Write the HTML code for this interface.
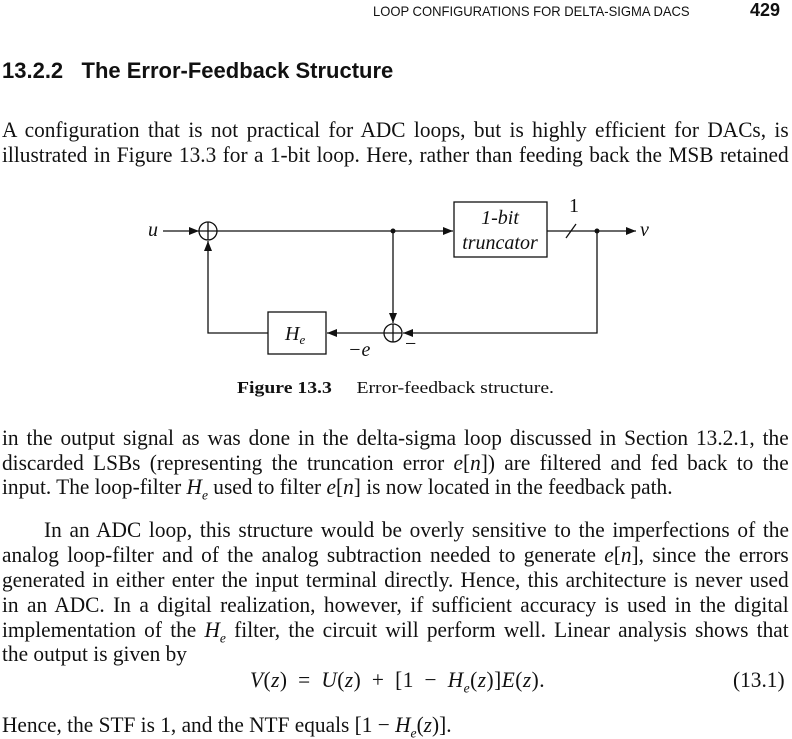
<!DOCTYPE html>
<html><head><meta charset="utf-8"><style>
body{margin:0;width:792px;height:739px;background:#fff;position:relative;overflow:hidden;font-family:"Liberation Serif",serif;color:#111}
.l{position:absolute;left:2px;width:811px;font-size:22px;line-height:20px;height:24px;overflow:hidden;text-align:justify;text-align-last:justify;white-space:normal;transform:scaleX(0.97);transform-origin:0 0}
.n{text-align-last:left}
i{font-style:italic}
sub{font-size:14px}
</style></head><body>
<div style="position:absolute;left:373px;top:3px;font:14px 'Liberation Sans',sans-serif;transform:scaleX(0.93);transform-origin:0 0">LOOP CONFIGURATIONS FOR DELTA-SIGMA DACS</div>
<div style="position:absolute;left:750px;top:0px;font:bold 18px 'Liberation Sans',sans-serif">429</div>
<div style="position:absolute;left:2px;top:58px;font:bold 22px 'Liberation Sans',sans-serif">13.2.2&nbsp;&nbsp;&nbsp;The Error-Feedback Structure</div>
<div>
<div class="l" style="top:120px">A configuration that is not practical for ADC loops, but is highly efficient for DACs, is</div>
<div class="l" style="top:145px">illustrated in Figure 13.3 for a 1-bit loop. Here, rather than feeding back the MSB retained</div>
</div>
<svg style="position:absolute;left:0;top:0" width="792" height="420" font-family="Liberation Serif,serif">
<defs><marker id="a" markerWidth="10" markerHeight="8" refX="10" refY="4" orient="auto" markerUnits="userSpaceOnUse"><path d="M0,0L10,4L0,8z" fill="#111"/></marker></defs>
<g stroke="#111" stroke-width="1.3" fill="none">
<line x1="163" y1="231" x2="199" y2="231" marker-end="url(#a)"/>
<circle cx="208" cy="231" r="9"/><line x1="199" y1="231" x2="217" y2="231"/><line x1="208" y1="222" x2="208" y2="240"/>
<line x1="217" y1="231" x2="453" y2="231" marker-end="url(#a)"/>
<rect x="454" y="202" width="93" height="55"/>
<line x1="547" y1="231" x2="636" y2="231" marker-end="url(#a)"/>
<line x1="566" y1="238" x2="576" y2="224"/>
<line x1="393" y1="231" x2="393" y2="323" marker-end="url(#a)"/>
<circle cx="393" cy="333" r="9"/><line x1="384" y1="333" x2="402" y2="333"/><line x1="393" y1="324" x2="393" y2="342"/>
<polyline points="597,231 597,333 403,333" marker-end="url(#a)"/>
<line x1="384" y1="333" x2="327" y2="333" marker-end="url(#a)"/>
<rect x="268" y="312" width="58" height="42"/>
<polyline points="268,333 208,333 208,241" marker-end="url(#a)"/>
</g>
<circle cx="393" cy="231" r="2.5" fill="#111"/><circle cx="597" cy="231" r="2.5" fill="#111"/>
<g font-size="20" font-style="italic" fill="#111">
<text x="148" y="236">u</text><text x="640" y="236">v</text>
<text x="500" y="224" text-anchor="middle">1-bit</text>
<text x="500" y="249" text-anchor="middle">truncator</text>
<text x="285" y="340">H<tspan font-size="13" dy="4">e</tspan></text>
<text x="348" y="356">−e</text>
</g>
<text x="569" y="212" font-size="20" fill="#111">1</text>
<text x="405" y="350" font-size="20" fill="#111">−</text>
<text x="237" y="393" font-size="17" fill="#111" textLength="317" lengthAdjust="spacingAndGlyphs"><tspan font-weight="bold">Figure 13.3</tspan>&#160;&#160;&#160;&#160; Error-feedback structure.</text>
</svg>
<div>
<div class="l" style="top:428px">in the output signal as was done in the delta-sigma loop discussed in Section 13.2.1, the</div>
<div class="l" style="top:453px">discarded LSBs (representing the truncation error <i>e</i>[<i>n</i>]) are filtered and fed back to the</div>
<div class="l n" style="top:477px">input. The loop-filter <i>H<sub>e</sub></i> used to filter <i>e</i>[<i>n</i>] is now located in the feedback path.</div>
</div>
<div>
<div class="l" style="top:520px;left:44px;width:768px">In an ADC loop, this structure would be overly sensitive to the imperfections of the</div>
<div class="l" style="top:545px">analog loop-filter and of the analog subtraction needed to generate <i>e</i>[<i>n</i>], since the errors</div>
<div class="l" style="top:570px">generated in either enter the input terminal directly. Hence, this architecture is never used</div>
<div class="l" style="top:595px">in an ADC. In a digital realization, however, if sufficient accuracy is used in the digital</div>
<div class="l" style="top:620px">implementation of the <i>H<sub>e</sub></i> filter, the circuit will perform well. Linear analysis shows that</div>
<div class="l n" style="top:644px">the output is given by</div>
</div>
<div class="l n" style="left:250px;top:670px;width:400px;word-spacing:5px;letter-spacing:0.5px"><i>V</i>(<i>z</i>) = <i>U</i>(<i>z</i>) + [1 − <i>H<sub>e</sub></i>(<i>z</i>)]<i>E</i>(<i>z</i>).</div>
<div class="l n" style="left:733px;top:670px;width:80px">(13.1)</div>
<div class="l n" style="top:715px">Hence, the STF is 1, and the NTF equals [1 − <i>H<sub>e</sub></i>(<i>z</i>)].</div>
</body></html>
